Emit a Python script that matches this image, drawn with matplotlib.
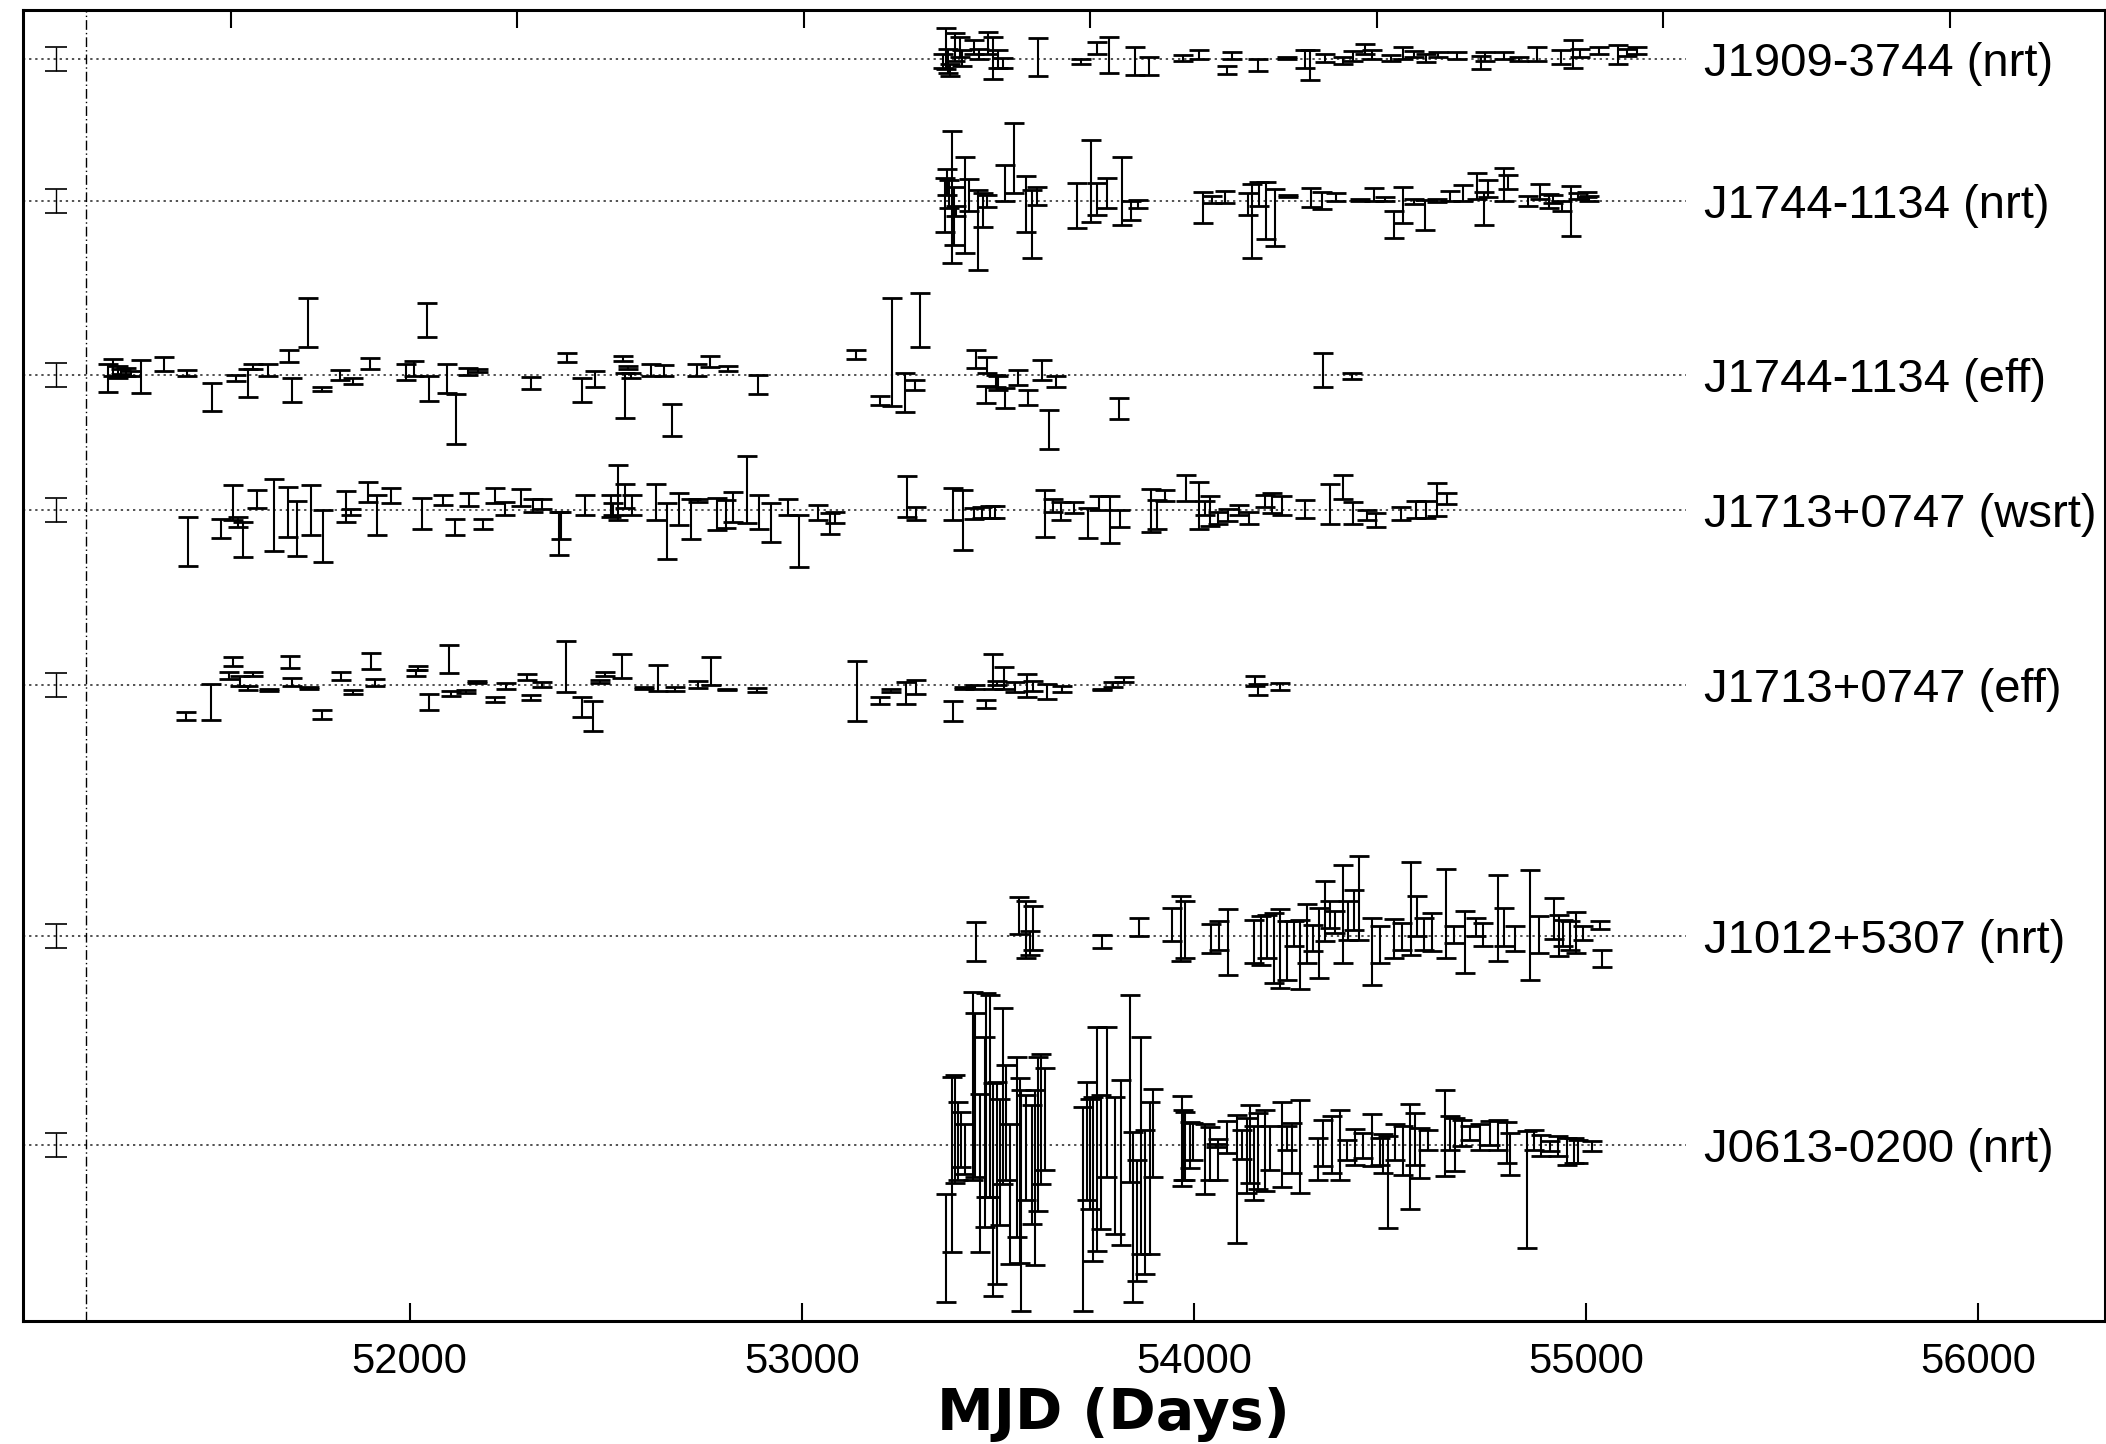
import matplotlib.pyplot as plt

plt.rcParams["font.family"] = ["Liberation Sans", "DejaVu Sans"]

# ---------------------------------------------------------------------------
# Timing residuals per pulsar / telescope: MJD, residual, 1-sigma error
# ---------------------------------------------------------------------------
j1909_nrt_mjd = [53361, 53367, 53373, 53379, 53391, 53403, 53409, 53440, 53452, 53476,
                 53488, 53500, 53512, 53603, 53711, 53753, 53783, 53850, 53886, 53971,
                 54013, 54085, 54097, 54164, 54236, 54284, 54297, 54333, 54381, 54405,
                 54435, 54453, 54502, 54532, 54562, 54592, 54622, 54671, 54731, 54743,
                 54791, 54828, 54876, 54936, 54966, 54984, 55033, 55081, 55105, 55129]
j1909_nrt_res = [-0.17, 1.03, -0.17, -1.1, 1.2, 1.2, 0.1, 1.2, 0.5, 1.6,
                 0.1, 0.0, -0.4, 0.17, -0.24, 1.1, 0.45, -0.17, -0.7, 0.1,
                 0.45, -1.1, 0.34, -0.6, 0.1, 0.0, -0.6, 0.1, -0.17, 0.34,
                 1.03, 0.45, 0.1, 0.6, 0.5, 0.1, 0.45, 0.34, -0.34, 0.27,
                 0.34, 0.0, 0.5, 0.17, 0.5, 0.6, 0.86, 0.45, 0.69, 0.86]
j1909_nrt_err = [0.69, 2.06, 1.2, 0.6, 1.37, 1.0, 0.77, 0.69, 0.5, 1.1,
                 2.1, 0.86, 0.5, 1.9, 0.26, 0.6, 1.8, 1.4, 0.86, 0.26,
                 0.43, 0.43, 0.34, 0.6, 0.1, 0.86, 1.46, 0.43, 0.34, 0.5,
                 0.5, 0.43, 0.26, 0.6, 0.34, 0.43, 0.26, 0.34, 0.69, 0.43,
                 0.34, 0.17, 0.69, 0.69, 1.37, 0.43, 0.34, 0.94, 0.34, 0.34]

j1744_nrt_mjd = [53364, 53370, 53376, 53382, 53387, 53393, 53416, 53427, 53450, 53462,
                 53473, 53519, 53542, 53571, 53588, 53599, 53702, 53737, 53754, 53777,
                 53817, 53840, 53857, 54023, 54046, 54080, 54138, 54149, 54166, 54183,
                 54206, 54241, 54298, 54327, 54361, 54424, 54458, 54487, 54510, 54533,
                 54561, 54590, 54619, 54653, 54687, 54722, 54739, 54750, 54790, 54802,
                 54853, 54882, 54905, 54916, 54939, 54962, 54979, 55002, 55008]
j1744_nrt_res = [-0.4, 1.9, 0.7, 0.35, -1.56, -1.0, -0.4, 0.6, -2.9, -0.9,
                 -0.07, 1.8, 4.3, -0.35, -2.3, 0.5, -0.5, 2.0, 0.17, 0.76,
                 0.97, -0.97, -0.28, -0.7, 0.17, 0.4, -0.28, -2.0, 0.7, -0.97,
                 -1.66, 0.52, 0.28, 0.0, 0.38, 0.1, 0.66, 0.17, -2.4, -0.4,
                 -0.05, -1.45, 0.0, 0.52, 0.76, 1.45, -0.76, 1.2, 1.66, 1.9,
                 0.0, 0.93, 0.0, 0.17, -0.5, -1.0, 0.48, 0.6, 0.26]
j1744_nrt_err = [2.7, 1.3, 1.4, 6.6, 2.9, 0.5, 4.8, 1.6, 4.0, 1.7,
                 0.6, 1.8, 3.5, 2.8, 3.4, 0.9, 2.25, 4.1, 1.6, 1.5,
                 3.4, 0.95, 0.4, 1.56, 0.35, 0.6, 1.1, 3.7, 1.2, 2.85,
                 2.85, 0.1, 0.95, 0.86, 0.38, 0.1, 0.66, 0.17, 1.35, 1.8,
                 0.26, 1.5, 0.17, 0.5, 0.78, 1.3, 1.65, 0.86, 1.65, 0.7,
                 0.5, 0.75, 0.7, 0.43, 0.5, 2.5, 0.3, 0.26, 0.26]

j1744_eff_mjd = [51231, 51244, 51257, 51263, 51276, 51289, 51315, 51374, 51432, 51497,
                 51556, 51588, 51601, 51640, 51692, 51699, 51742, 51777, 51822, 51855,
                 51898, 51992, 52011, 52044, 52050, 52096, 52119, 52148, 52174, 52310,
                 52401, 52440, 52473, 52545, 52548, 52556, 52564, 52616, 52649, 52668,
                 52733, 52766, 52811, 52889, 53137, 53199, 53229, 53262, 53289, 53301,
                 53444, 53469, 53473, 53496, 53500, 53518, 53552, 53576, 53612, 53630,
                 53648, 53810, 54329, 54403]
j1744_eff_res = [-0.34, 0.69, 0.28, 0.28, 0.24, 0.1, -0.17, 1.03, 0.14, -2.24,
                 -0.34, -0.86, 0.8, 0.45, 1.83, -1.55, 5.2, -1.45, 0.0, -0.6,
                 1.1, 0.28, 0.62, 5.45, -1.4, -0.4, -4.4, 0.34, 0.45, -0.86,
                 1.7, -1.55, -0.45, 1.6, -2.07, 0.69, -0.1, 0.45, 0.38, -4.5,
                 0.45, 1.34, 0.6, -1.03, 2.0, -2.57, 2.25, -1.8, -1.0, 5.4,
                 1.55, -1.97, 0.95, -0.6, -0.88, -2.3, -0.32, -2.3, 0.46, -5.5,
                 -0.7, -3.4, 0.46, -0.14]
j1744_eff_err = [1.38, 0.86, 0.6, 0.26, 0.43, 0.26, 1.64, 0.69, 0.3, 1.38,
                 0.34, 1.38, 0.26, 0.6, 0.6, 1.2, 2.47, 0.17, 0.5, 0.3,
                 0.52, 0.78, 0.78, 1.72, 1.24, 1.46, 2.5, 0.34, 0.15, 0.6,
                 0.4, 1.2, 0.8, 0.22, 2.24, 0.17, 0.22, 0.6, 0.55, 1.6,
                 0.6, 0.55, 0.22, 0.95, 0.47, 0.47, 5.4, 1.97, 0.5, 2.7,
                 0.85, 0.83, 0.75, 0.6, 0.7, 1.0, 0.74, 0.74, 0.97, 1.95,
                 0.53, 1.07, 1.67, 0.3]

j1713_wsrt_mjd = [51436, 51520, 51550, 51562, 51574, 51611, 51653, 51689, 51713, 51749,
                  51779, 51839, 51851, 51893, 51917, 51953, 52031, 52086, 52116, 52152,
                  52188, 52218, 52242, 52284, 52314, 52338, 52380, 52386, 52446, 52513,
                  52519, 52531, 52549, 52567, 52627, 52657, 52687, 52717, 52735, 52783,
                  52807, 52825, 52861, 52891, 52921, 52964, 52994, 53042, 53072, 53084,
                  53268, 53292, 53385, 53410, 53439, 53459, 53479, 53493, 53621, 53640,
                  53660, 53694, 53729, 53758, 53787, 53812, 53890, 53905, 53925, 53979,
                  54013, 54028, 54042, 54062, 54087, 54116, 54140, 54180, 54199, 54224,
                  54283, 54346, 54381, 54405, 54440, 54464, 54528, 54567, 54592, 54621,
                  54646]
j1713_wsrt_res = [-3.1, -1.8, 0.77, -1.17, -2.9, 1.13, -0.5, -0.17, -1.83, 0.0,
                  -2.57, 0.37, -0.17, 1.83, -0.47, 1.43, -0.33, 1.0, -1.63, 1.1,
                  -1.4, 1.43, 0.17, 1.27, 0.5, 0.67, -2.3, -1.5, 0.53, 0.43,
                  0.1, 1.77, 1.4, 0.5, 0.83, -2.07, 0.1, -0.83, 1.0, -0.4,
                  -0.4, 0.33, 2.07, -0.17, -1.23, 0.33, -3.07, -0.23, -1.37, -0.73,
                  1.4, -0.34, 0.62, -0.97, -0.37, -0.22, -0.16, -0.16, -0.31, 0.47,
                  -0.03, 0.28, -1.3, 0.72, -0.94, -0.81, -0.03, -0.4, 1.5, 2.25,
                  0.47, 0.25, -0.06, -0.78, -0.44, 0.03, -0.75, 0.94, 0.72, 0.47,
                  0.12, 0.62, 2.3, -0.31, -0.5, -0.97, -0.31, 0.1, 0.1, 1.06,
                  1.19]
j1713_wsrt_err = [2.45, 0.97, 1.75, 0.5, 1.75, 0.88, 3.6, 2.5, 2.73, 2.5,
                  2.6, 1.53, 0.33, 1.0, 1.97, 0.75, 1.57, 0.5, 0.8, 0.65,
                  0.48, 0.75, 0.67, 0.83, 0.67, 0.5, 2.13, 1.33, 0.97, 1.1,
                  0.58, 2.75, 1.17, 1.0, 1.83, 2.75, 1.58, 2.0, 0.17, 1.58,
                  1.42, 1.5, 3.38, 1.67, 1.92, 0.83, 2.58, 0.75, 1.05, 0.58,
                  2.03, 0.67, 1.56, 3.0, 0.55, 0.55, 0.62, 0.6, 2.34, 0.62,
                  0.9, 0.58, 1.48, 0.7, 2.34, 0.83, 2.14, 1.45, 0.55, 1.3,
                  2.34, 0.7, 1.48, 0.62, 0.6, 0.5, 0.6, 0.62, 1.0, 0.94,
                  0.9, 2.03, 1.22, 1.1, 0.52, 0.67, 0.62, 0.86, 0.86, 1.67,
                  0.55]

j1713_eff_mjd = [51429, 51494, 51540, 51549, 51568, 51587, 51601, 51642, 51694, 51700,
                 51744, 51776, 51824, 51855, 51902, 51911, 52017, 52022, 52050, 52100,
                 52106, 52143, 52171, 52217, 52245, 52300, 52310, 52337, 52399, 52439,
                 52467, 52486, 52499, 52541, 52597, 52634, 52677, 52736, 52768, 52810,
                 52885, 53140, 53200, 53228, 53265, 53292, 53385, 53413, 53441, 53469,
                 53487, 53497, 53515, 53543, 53574, 53589, 53626, 53663, 53765, 53793,
                 53821, 54155, 54164, 54220]
j1713_eff_res = [-3.1, -1.7, 0.93, 2.34, 0.41, -0.3, 1.1, -0.5, 2.3, 0.28,
                 -0.3, -2.97, 0.9, -0.65, 2.4, 0.24, 1.2, 1.69, -1.66, 2.62,
                 -0.86, -0.62, 0.31, -1.48, -0.1, 0.8, -1.24, 0.07, 1.83, -2.2,
                 -3.14, 0.34, 1.07, 1.9, -0.34, 0.69, -0.38, 0.07, 1.41, -0.45,
                 -0.48, -0.62, -1.55, -0.55, -0.8, -0.17, -2.62, -0.34, -0.2, -1.9,
                 1.34, 0.2, 0.69, -0.2, -0.03, -0.1, -0.65, -0.41, -0.45, 0.07,
                 0.52, 0.41, -0.45, -0.14]
j1713_eff_err = [0.43, 1.84, 0.35, 0.48, 0.52, 0.2, 0.24, 0.1, 0.62, 0.38,
                 0.12, 0.47, 0.38, 0.2, 0.78, 0.34, 0.26, 0.22, 0.8, 1.41,
                 0.26, 0.17, 0.12, 0.24, 0.34, 0.26, 0.29, 0.24, 2.55, 1.0,
                 1.5, 0.17, 0.2, 1.22, 0.1, 1.29, 0.22, 0.34, 1.43, 0.07,
                 0.2, 3.0, 0.34, 0.12, 1.12, 0.69, 0.98, 0.1, 0.17, 0.43,
                 1.72, 0.17, 1.12, 0.52, 1.15, 0.52, 0.74, 0.31, 0.07, 0.24,
                 0.26, 0.52, 0.52, 0.31]

j1012_nrt_mjd = [53445, 53555, 53572, 53583, 53589, 53766, 53860, 53943, 53966, 53977,
                 54043, 54065, 54087, 54154, 54171, 54187, 54204, 54220, 54237, 54254,
                 54270, 54287, 54304, 54320, 54334, 54348, 54359, 54381, 54392, 54409,
                 54420, 54453, 54475, 54509, 54531, 54553, 54570, 54586, 54608, 54642,
                 54664, 54691, 54719, 54736, 54775, 54791, 54819, 54858, 54880, 54919,
                 54930, 54941, 54958, 54974, 54991, 55035, 55040]
j1012_nrt_res = [-0.53, 2.1, 0.67, -0.67, 0.83, -0.53, 0.93, 1.17, 0.77, 0.67,
                 -0.23, 0.1, -0.53, -0.5, -0.4, 0.0, -1.17, -1.23, -1.4, 0.27,
                 -1.8, 0.27, -0.17, -0.67, 2.5, 2.17, 1.43, 2.27, 1.6, 2.67,
                 3.83, -1.5, -0.83, -0.23, 0.0, 2.8, 2.0, 0.27, 0.43, 2.3,
                 0.17, -0.57, 0.93, 0.17, 1.8, 0.93, -0.23, 1.17, 0.17, 1.77,
                 0.1, 0.33, 0.1, 0.37, 0.33, 1.13, -2.23]
j1012_nrt_err = [1.95, 1.83, 2.83, 1.17, 2.17, 0.62, 0.87, 1.67, 3.25, 2.83,
                 1.42, 1.42, 3.28, 2.17, 2.42, 2.17, 3.5, 3.92, 2.92, 1.25,
                 3.47, 2.92, 1.33, 3.5, 3.0, 1.33, 1.08, 4.9, 1.92, 2.0,
                 4.17, 3.33, 1.83, 1.92, 1.33, 4.63, 2.0, 1.58, 1.92, 4.45,
                 0.83, 3.08, 0.92, 1.17, 4.28, 1.92, 1.25, 5.5, 1.83, 2.08,
                 2.08, 1.33, 1.42, 2.03, 0.67, 0.38, 0.83]

j0613_nrt_mjd = [53369, 53382, 53390, 53399, 53407, 53416, 53437, 53441, 53454, 53467,
                 53471, 53480, 53488, 53497, 53505, 53514, 53520, 53531, 53548, 53556,
                 53560, 53573, 53586, 53594, 53603, 53611, 53620, 53717, 53726, 53735,
                 53743, 53752, 53764, 53777, 53798, 53815, 53837, 53845, 53854, 53866,
                 53875, 53887, 53896, 53969, 53973, 53977, 53990, 53997, 54028, 54040,
                 54057, 54062, 54084, 54109, 54122, 54135, 54143, 54152, 54164, 54181,
                 54194, 54224, 54237, 54249, 54271, 54317, 54330, 54351, 54373, 54390,
                 54411, 54432, 54453, 54474, 54483, 54496, 54513, 54534, 54551, 54564,
                 54577, 54598, 54640, 54653, 54666, 54683, 54704, 54729, 54755, 54776,
                 54798, 54806, 54848, 54866, 54886, 54908, 54929, 54951, 54968, 54980,
                 55014]
j0613_nrt_res = [-10.3, -1.97, 1.53, 0.37, 0.53, -0.4, 5.87, 4.93, -2.8, 1.27,
                 4.93, 4.87, -4.47, -3.8, -1.73, 4.87, 2.2, -4.9, -0.23, -2.57,
                 -5.57, -0.3, -1.97, -3.3, 1.1, 2.6, 2.53, -6.4, 0.37, -0.9,
                 -3.4, 0.6, -1.73, 4.27, -2.07, -1.8, 5.6, -7.23, -7.57, -0.07,
                 -5.73, -3.3, 1.2, 0.33, 0.0, -0.13, 0.0, 0.33, -1.43, -0.9,
                 -0.07, -1.5, 0.77, -3.4, 0.0, -1.07, 0.1, -1.83, -0.67, -0.57,
                 -0.33, 0.0, 0.67, -0.33, -0.17, -1.4, 0.17, 0.0, 0.0, -0.5,
                 -0.23, -0.07, 0.43, -0.67, -0.9, -3.73, 0.27, -0.57, -1.17, 0.6,
                 -0.83, 0.5, 1.17, 1.17, 0.0, 1.17, 1.17, 0.77, 1.17, 1.0,
                 0.2, -0.9, -4.5, 0.5, -0.07, -0.17, -0.17, -0.67, -0.57, -0.67,
                 -0.17]
j0613_nrt_err = [5.4, 8.75, 5.4, 3.9, 2.75, 2.5, 9.4, 8.2, 7.9, 9.5,
                 10.2, 10.1, 10.6, 10.1, 6.3, 8.75, 5.75, 7.0, 9.0, 9.2,
                 11.0, 5.25, 5.9, 8.75, 7.7, 6.5, 5.1, 10.2, 5.9, 5.5,
                 8.2, 11.2, 6.7, 7.5, 6.8, 8.25, 9.3, 8.5, 6.0, 10.8,
                 7.2, 7.6, 4.4, 4.5, 3.5, 3.4, 2.3, 1.83, 3.45, 2.67,
                 0.17, 2.07, 1.58, 6.4, 1.42, 3.75, 3.9, 3.67, 3.8, 4.08,
                 2.17, 4.25, 1.17, 2.5, 4.67, 2.08, 2.33, 2.83, 3.5, 1.0,
                 1.75, 1.25, 2.6, 1.33, 1.92, 4.6, 1.75, 2.42, 5.27, 2.58,
                 2.5, 1.0, 4.33, 1.67, 2.67, 1.33, 0.67, 1.25, 1.17, 1.5,
                 2.03, 2.08, 5.83, 1.0, 1.08, 0.5, 1.0, 1.33, 1.25, 1.17,
                 0.5]

labels = ["J1909-3744 (nrt)", "J1744-1134 (nrt)", "J1744-1134 (eff)",
          "J1713+0747 (wsrt)", "J1713+0747 (eff)", "J1012+5307 (nrt)",
          "J0613-0200 (nrt)"]
offsets = [126.0, 111.85, 94.5, 80.95, 63.5, 38.4, 17.6]

# reference error bar drawn at the left of every row
ref_mjd = 51098
ref_err = 1.2
ref_line_mjd = 51175

xticks = [52000, 53000, 54000, 55000, 56000]
year_ticks_mjd = [51544, 52275, 53005, 53736, 54466, 55197, 55927]

series = [
    (j1909_nrt_mjd, j1909_nrt_res, j1909_nrt_err),
    (j1744_nrt_mjd, j1744_nrt_res, j1744_nrt_err),
    (j1744_eff_mjd, j1744_eff_res, j1744_eff_err),
    (j1713_wsrt_mjd, j1713_wsrt_res, j1713_wsrt_err),
    (j1713_eff_mjd, j1713_eff_res, j1713_eff_err),
    (j1012_nrt_mjd, j1012_nrt_res, j1012_nrt_err),
    (j0613_nrt_mjd, j0613_nrt_res, j0613_nrt_err),
]

# ---------------------------------------------------------------------------
# Plot
# ---------------------------------------------------------------------------
x0, x1 = 51014, 56323
fig = plt.figure(figsize=(21.06, 14.44), dpi=100)
ax = fig.add_axes([0.0109, 0.0852, 0.9886, 0.9079])
ax.set_xlim(x0, x1)
ax.set_ylim(0, 130.9)

ax.axvline(ref_line_mjd, color="black", lw=1.0, ls=(0, (7, 2.2, 1, 2.2)))

for off, label, (mjd, res, err) in zip(offsets, labels, series):
    ax.plot([x0, 55255], [off, off], color="#222222", lw=1.1,
            ls=(0, (1.5, 2.5)), zorder=1)
    ax.errorbar([ref_mjd], [off], yerr=[ref_err], fmt="none", ecolor="black",
                elinewidth=1.0, capsize=8, capthick=1.2)
    ax.errorbar(mjd, [off + r for r in res], yerr=err, fmt="none",
                ecolor="black", elinewidth=1.5, capsize=7.5, capthick=2.0,
                zorder=2)
    ax.text(55300, off - 1.7, label, fontsize=34, ha="left", va="baseline")

ax.set_xticks(xticks)
ax.set_xticklabels([str(t) for t in xticks])
ax.set_yticks([])
ax.tick_params(axis="x", direction="in", length=13, width=1.5,
               labelsize=30, pad=15)
for s in ax.spines.values():
    s.set_linewidth(2.2)

top = ax.twiny()
top.set_xlim(x0, x1)
top.set_xticks(year_ticks_mjd)
top.tick_params(axis="x", direction="in", length=13, width=1.5, labeltop=False)
for s in top.spines.values():
    s.set_visible(False)

fig.text(0.5285, 0.0097, "MJD (Days)", ha="center", va="baseline",
         fontsize=41, fontweight="bold", family="DejaVu Sans")

fig.savefig("out.png", dpi=100)
